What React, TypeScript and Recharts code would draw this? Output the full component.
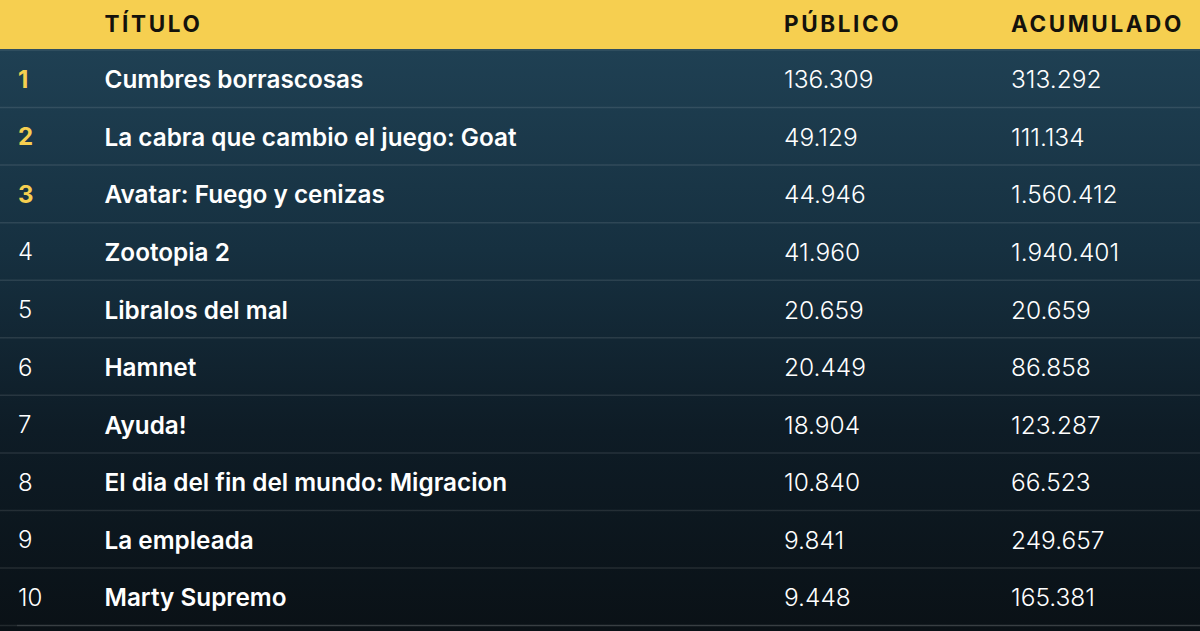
import { CartesianGrid, ReferenceLine, Scatter, ScatterChart, XAxis, YAxis } from "recharts";

const ranks = [1, 2, 3, 4, 5, 6, 7, 8, 9, 10];
const titles = [
  "Cumbres borrascosas",
  "La cabra que cambio el juego: Goat",
  "Avatar: Fuego y cenizas",
  "Zootopia 2",
  "Libralos del mal",
  "Hamnet",
  "Ayuda!",
  "El dia del fin del mundo: Migracion",
  "La empleada",
  "Marty Supremo",
];
const publico = [136309, 49129, 44946, 41960, 20659, 20449, 18904, 10840, 9841, 9448];
const acumulado = [313292, 111134, 1560412, 1940401, 20659, 86858, 123287, 66523, 249657, 165381];
const headers = ["TÍTULO", "PÚBLICO", "ACUMULADO"];

// left edge of each column, in pixels (the x axis runs 1:1 over the page)
const RANK_X = 18;
const TITLE_X = 104.5;
const PUBLICO_X = 784;
const ACUM_X = 1011;
const FONT = "Inter, 'Noto Sans', sans-serif";

const fmt = (n: number) => n.toLocaleString("de-DE");
const column = (x: number, cells: (string | number)[]) =>
  cells.map((c, i) => ({ x, y: i + 0.5, label: String(c) }));

const cell = (fill: string | ((p: any) => string), size: number, weight: number) => (props: any) => (
  <text
    x={props.cx}
    y={props.cy + 0.5}
    dominantBaseline="central"
    fontFamily={FONT}
    fontSize={size}
    fontWeight={typeof fill === "function" && props.payload.y < 3 ? 700 : weight}
    fill={typeof fill === "function" ? fill(props.payload) : fill}
  >
    {props.payload.label}
  </text>
);

const headerTick = (props: any) => {
  const i = [TITLE_X, PUBLICO_X, ACUM_X].indexOf(props.payload.value);
  return (
    <text
      x={props.x}
      y={23.5}
      dominantBaseline="central"
      fontFamily={FONT}
      fontSize={22.5}
      fontWeight={700}
      letterSpacing={2.6}
      fill="#14120c"
    >
      {headers[i]}
    </text>
  );
};

export default function App() {
  return (
    <div
      style={{
        position: "absolute",
        left: 0,
        top: 0,
        width: 1200,
        height: 631,
        overflow: "hidden",
        background: "linear-gradient(#1f4053 0px, #1f4053 50px, #163040 250px, #0e1c26 430px, #0a1116 631px)",
      }}
    >
      <div style={{ position: "absolute", left: 0, top: 0, width: 1200, height: 49, background: "#f6cf50" }} />
      <div style={{ position: "absolute", left: 0, top: 0 }}>
        <ScatterChart width={1200} height={631} margin={{ top: 0, right: 0, bottom: 5.4, left: 0 }}>
          <CartesianGrid vertical={false} stroke="#ffffff" strokeOpacity={0.1} strokeWidth={1.5} />
          <XAxis
            type="number"
            dataKey="x"
            orientation="top"
            domain={[0, 1200]}
            ticks={[TITLE_X, PUBLICO_X, ACUM_X]}
            interval={0}
            tick={headerTick}
            tickLine={false}
            axisLine={false}
            height={50}
          />
          <YAxis type="number" dataKey="y" reversed domain={[0, 10]} ticks={[1, 2, 3, 4, 5, 6, 7, 8, 9]} hide />
          <ReferenceLine
            segment={[
              { x: 17, y: 10 },
              { x: 1200, y: 10 },
            ]}
            stroke="#ffffff"
            strokeOpacity={0.1}
            strokeWidth={1.5}
          />
          <Scatter
            data={column(RANK_X, ranks)}
            isAnimationActive={false}
            shape={cell((p) => (p.y < 3 ? "#f6cf50" : "#ffffff"), 24, 300)}
          />
          <Scatter data={column(TITLE_X, titles)} isAnimationActive={false} shape={cell("#ffffff", 24.3, 600)} />
          <Scatter data={column(PUBLICO_X, publico.map(fmt))} isAnimationActive={false} shape={cell("#ffffff", 24.5, 300)} />
          <Scatter data={column(ACUM_X, acumulado.map(fmt))} isAnimationActive={false} shape={cell("#ffffff", 24.5, 300)} />
        </ScatterChart>
      </div>
    </div>
  );
}
